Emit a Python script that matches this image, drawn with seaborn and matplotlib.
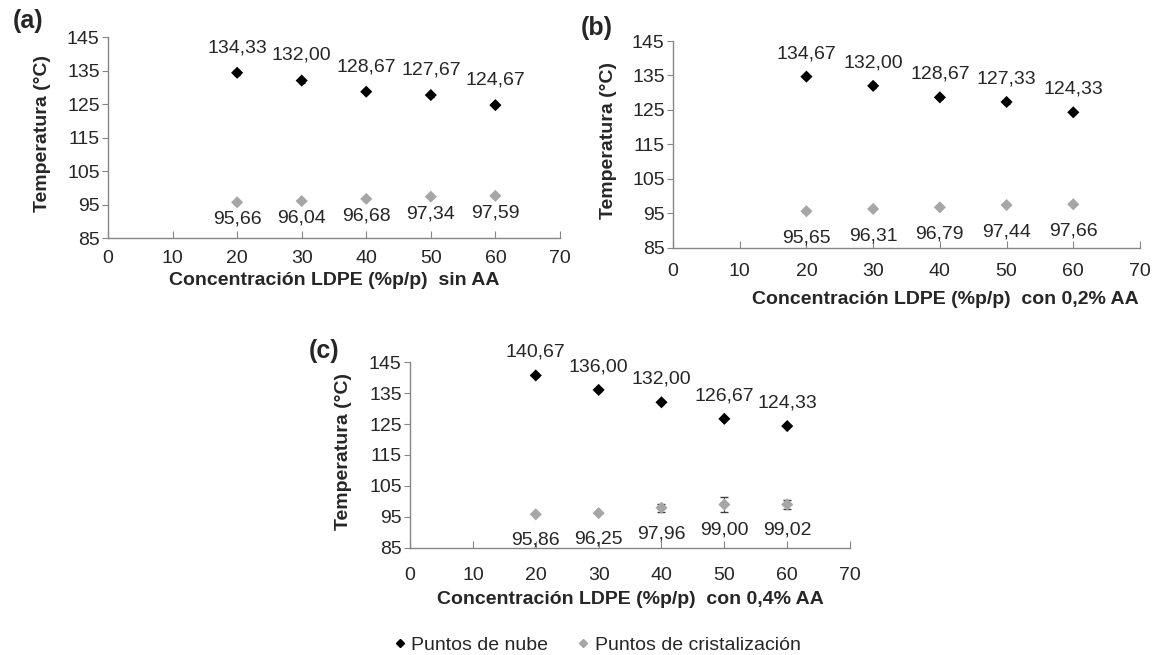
import numpy as np
import pandas as pd
import matplotlib
matplotlib.use("Agg")
import matplotlib.pyplot as plt
import seaborn as sns
from matplotlib.lines import Line2D

sns.set_style("white")
plt.rcParams['font.family'] = ['Liberation Sans', 'DejaVu Sans']

# Data
conc = [20, 30, 40, 50, 60]
nube_a = [134.33, 132.00, 128.67, 127.67, 124.67]
crist_a = [95.66, 96.04, 96.68, 97.34, 97.59]
nube_b = [134.67, 132.00, 128.67, 127.33, 124.33]
crist_b = [95.65, 96.31, 96.79, 97.44, 97.66]
nube_c = [140.67, 136.00, 132.00, 126.67, 124.33]
crist_c = [95.86, 96.25, 97.96, 99.00, 99.02]
err_nube_a = [0.6, 0.6, 0.5, 0.5, 0.5]
err_nube_b = [0.5, 0.7, 0.5, 0.5, 0.4]
err_nube_c = [0.5, 0.5, 0.7, 0.4, 0.3]
err_crist_c = [0.0, 0.0, 1.2, 2.3, 1.5]
xlabels = ["Concentración LDPE (%p/p)  sin AA",
           "Concentración LDPE (%p/p)  con 0,2% AA",
           "Concentración LDPE (%p/p)  con 0,4% AA"]
letters = ["(a)", "(b)", "(c)"]

black = "#000000"
gray = "#a6a6a6"
spine = "#868686"

fig = plt.figure(figsize=(11.55, 6.55), dpi=100)

# axes boxes in figure fractions
boxes = [[0.0935, 0.6366, 0.3913, 0.3069],
         [0.5827, 0.6214, 0.4043, 0.3160],
         [0.3550, 0.1634, 0.3810, 0.2839]]
xlab_y = [1 - 280 / 655, 1 - 299 / 655, 1 - 599 / 655]
xlab_shift = [0.0, 0.084, 0.0]
tick_pad = [8.5, 11, 14]
off_up = [12, 10.5, 10.5]
off_down = [-6, -13, -12.5]
letter_pos = [(0.011, 1 - 21 / 655), (0.503, 1 - 28 / 655), (0.267, 1 - 351 / 655)]
ylab_x = [0.037, 0.527, 0.297]

panels = [(nube_a, crist_a, err_nube_a, None),
          (nube_b, crist_b, err_nube_b, None),
          (nube_c, crist_c, err_nube_c, err_crist_c)]


def fmt(v):
    return f"{v:.2f}".replace(".", ",")


for i, (nube, crist, en, ec) in enumerate(panels):
    ax = fig.add_axes(boxes[i])
    df = pd.DataFrame({"conc": conc * 2,
                       "temp": nube + crist,
                       "serie": ["nube"] * 5 + ["crist"] * 5})
    ax.errorbar(conc, nube, yerr=en, fmt="none", ecolor=black, elinewidth=0.8, capsize=2)
    if ec is not None:
        ax.errorbar(conc, crist, yerr=ec, fmt="none", ecolor="#404040", elinewidth=0.8, capsize=3)
    sns.scatterplot(data=df, x="conc", y="temp", hue="serie", palette={"nube": black, "crist": gray},
                    marker="D", s=38, edgecolor="none", legend=False, ax=ax, zorder=3)
    for x, v in zip(conc, nube):
        ax.annotate(fmt(v), (x, v), xytext=(0, off_up[i]), textcoords="offset points",
                    ha="center", va="bottom", fontsize=14)
    for x, v in zip(conc, crist):
        ax.annotate(fmt(v), (x, v), xytext=(0, off_down[i]), textcoords="offset points",
                    ha="center", va="top", fontsize=14)
    ax.set_xlim(0, 70)
    ax.set_ylim(85, 145)
    ax.set_xticks(range(0, 71, 10))
    ax.set_yticks(range(85, 146, 10))
    ax.tick_params(axis="x", direction="in", length=5, color=spine, labelsize=14, pad=tick_pad[i])
    ax.tick_params(axis="y", direction="out", length=4, color=spine, labelsize=14, pad=2)
    ax.tick_params(left=True, bottom=True)
    for s in ["top", "right"]:
        ax.spines[s].set_visible(False)
    for s in ["left", "bottom"]:
        ax.spines[s].set_color(spine)
        ax.spines[s].set_linewidth(1.0)
    ax.set_xlabel("")
    ax.set_ylabel("")
    ax.set_facecolor("none")
    xc = boxes[i][0] + boxes[i][2] * (0.5 + xlab_shift[i])
    fig.text(xc, xlab_y[i], xlabels[i], ha="center", va="center",
             fontsize=14, fontweight="bold")
    fig.text(ylab_x[i], boxes[i][1] + boxes[i][3] * 0.52, "Temperatura (°C)", rotation=90,
             ha="center", va="center", fontsize=14, fontweight="bold")
    fig.text(letter_pos[i][0], letter_pos[i][1], letters[i], ha="left", va="center",
             fontsize=18, fontweight="bold")

handles = [Line2D([], [], marker="D", color=black, linestyle="none", markersize=4),
           Line2D([], [], marker="D", color=gray, linestyle="none", markersize=4)]
fig.legend(handles, ["Puntos de nube", "Puntos de cristalización"], loc="center",
           bbox_to_anchor=(0.5156, 1 - 645 / 655), ncol=2, frameon=False, fontsize=14,
           handletextpad=0.1, columnspacing=1.3, handlelength=1.0)

fig.savefig("out.png", dpi=100)
